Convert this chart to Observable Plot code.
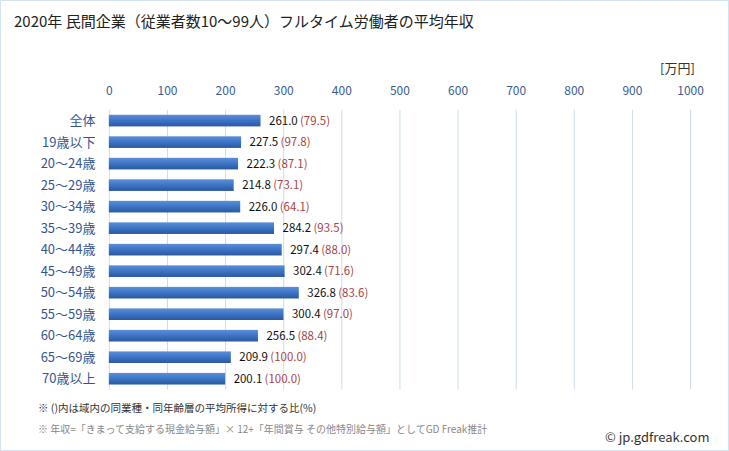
<!DOCTYPE html>
<html><head><meta charset="utf-8">
<script src="https://cdn.jsdelivr.net/npm/d3@7"></script>
<script src="https://cdn.jsdelivr.net/npm/@observablehq/plot@0.6"></script>
<style>
html,body{margin:0;padding:0;background:#fff;}
#wrap{position:relative;width:727px;height:449px;border:1px solid #d3e2f2;background:#fff;font-family:"Noto Sans CJK JP","Noto Sans",sans-serif;overflow:hidden;}
.t{position:absolute;white-space:nowrap;}
#chart{position:absolute;left:-1px;top:-1px;}
</style></head>
<body>
<div id="wrap">
  <div class="t" style="left:13px;top:9px;font-size:15px;color:#222;">2020年 民間企業（従業者数10～99人）フルタイム労働者の平均年収</div>
  <div class="t" style="left:659px;top:57px;font-size:13px;color:#333;">[万円]</div>
  <div id="chart"></div>
  <div class="t" style="left:37px;top:399px;font-size:10.5px;color:#333;">※ ()内は域内の同業種・同年齢層の平均所得に対する比(%)</div>
  <div class="t" style="left:37px;top:420px;font-size:10px;color:#888;">※ 年収=「きまって支給する現金給与額」× 12+「年間賞与 その他特別給与額」としてGD Freak推計</div>
  <div class="t" style="left:604px;top:426px;font-size:13px;color:#333;">© jp.gdfreak.com</div>
</div>
<script>
const categories = ["全体","19歳以下","20～24歳","25～29歳","30～34歳","35～39歳","40～44歳","45～49歳","50～54歳","55～59歳","60～64歳","65～69歳","70歳以上"];
const values = [261.0,227.5,222.3,214.8,226.0,284.2,297.4,302.4,326.8,300.4,256.5,209.9,200.1];
const ratios = [79.5,97.8,87.1,73.1,64.1,93.5,88.0,71.6,83.6,97.0,88.4,100.0,100.0];
const xTicks = [0,100,200,300,400,500,600,700,800,900,1000];

const data = categories.map((c,i)=>({cat:c, value:values[i], ratio:ratios[i]}));

const plot = Plot.plot({
  width: 729,
  height: 451,
  marginLeft: 109,
  marginRight: 38,
  marginTop: 110,
  marginBottom: 61,
  style: {fontFamily: '"Noto Sans CJK JP","Noto Sans",sans-serif', background: "transparent"},
  x: {domain: [0,1000], ticks: xTicks},
  y: {domain: categories, paddingInner: 0.46, paddingOuter: 0.23, round: false},
  marks: [
    Plot.ruleX(xTicks, {stroke: "#cddcec", strokeWidth: 1}),
    Plot.axisX({anchor: "top", ticks: xTicks, tickSize: 0, tickPadding: 15, fontSize: 12, fill: "#3b5b8f", label: null, tickFormat: d => String(d)}),
    Plot.axisY({tickSize: 0, tickPadding: 14, fontSize: 13, fill: "#34558f", label: null}),
    Plot.barX(data, {x: "value", y: "cat", fill: "url(#barGrad)"}),
    Plot.text(data, {x: "value", y: "cat", text: d => d.value.toFixed(1), textAnchor: "start", dx: 8, fontSize: 11.5, fill: "#111"}),
    Plot.text(data, {x: "value", y: "cat", text: d => "(" + d.ratio.toFixed(1) + ")", textAnchor: "start", dx: 39, fontSize: 11.5, fill: "#a84444"})
  ]
});

const ns = "http://www.w3.org/2000/svg";
const defs = document.createElementNS(ns, "defs");
defs.innerHTML = '<linearGradient id="barGrad" x1="0" y1="0" x2="0" y2="1">' +
  '<stop offset="0" stop-color="#5b8fd9"/><stop offset="0.45" stop-color="#3f76c8"/><stop offset="1" stop-color="#2a589f"/></linearGradient>';
plot.insertBefore(defs, plot.firstChild);
document.getElementById("chart").appendChild(plot);
</script>
</body></html>
